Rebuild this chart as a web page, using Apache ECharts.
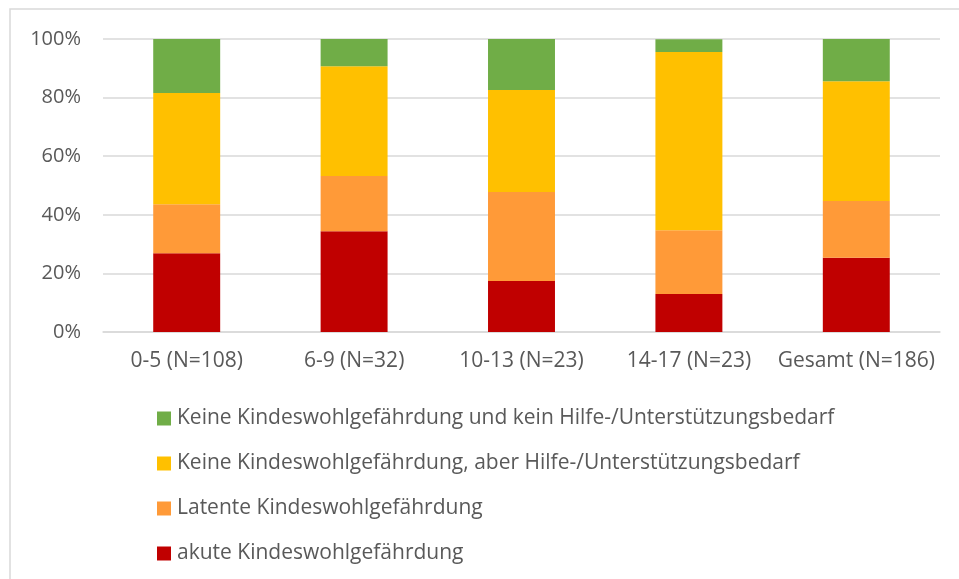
<!DOCTYPE html>
<html>
<head>
<meta charset="utf-8">
<script src="https://cdn.jsdelivr.net/npm/echarts@6/dist/echarts.min.js"></script>
<style>
  html, body { margin: 0; padding: 0; background: #fff; }
  #chart { width: 959px; height: 579px; }
</style>
</head>
<body>
<div id="chart"></div>
<script>
// categories and shares (percent of each group)
var categories = ['0-5 (N=108)', '6-9 (N=32)', '10-13 (N=23)', '14-17 (N=23)', 'Gesamt (N=186)'];
var akut = [26.9, 34.4, 17.4, 13.0, 25.3];
var latent = [16.7, 18.8, 30.4, 21.7, 19.4];
var hilfebedarf = [38.0, 37.5, 34.8, 60.9, 40.9];
var keinBedarf = [18.5, 9.4, 17.4, 4.3, 14.5];
var names = [
    'akute Kindeswohlgefährdung',
    'Latente Kindeswohlgefährdung',
    'Keine Kindeswohlgefährdung, aber Hilfe-/Unterstützungsbedarf',
    'Keine Kindeswohlgefährdung und kein Hilfe-/Unterstützungsbedarf'
];
var colors = ['#C00000', '#FF9A38', '#FFC000', '#70AD47'];

var chartDom = document.getElementById('chart');
var myChart = echarts.init(chartDom);
var font = 'Open Sans';

var seriesData = [akut, latent, hilfebedarf, keinBedarf];
var series = [];
for (var i = 0; i < seriesData.length; i++) {
    series.push({
        name: names[i],
        type: 'bar',
        stack: 'total',
        barWidth: '40%',
        itemStyle: { color: colors[i] },
        data: seriesData[i]
    });
}

var option = {
    animation: false,
    textStyle: { fontFamily: font },
    graphic: [{
        type: 'rect',
        shape: { x: 10, y: 9, width: 960, height: 600 },
        style: { fill: 'none', stroke: '#D9D9D9', lineWidth: 1.5 },
        silent: true
    }],
    grid: { left: 103, right: 19, top: 39, height: 293 },
    xAxis: {
        type: 'category',
        data: categories,
        axisTick: { show: false },
        axisLine: { show: true, lineStyle: { color: '#D9D9D9', width: 1.5 } },
        axisLabel: { color: '#595959', fontSize: 21, margin: 19, interval: 0, fontFamily: font }
    },
    yAxis: {
        type: 'value',
        min: 0,
        max: 100,
        interval: 20,
        axisLine: { show: false },
        axisTick: { show: false },
        splitLine: { lineStyle: { color: '#D9D9D9', width: 1.5 } },
        axisLabel: { color: '#595959', fontSize: 20, margin: 22, fontFamily: font, formatter: '{value}%' }
    },
    legend: {
        orient: 'vertical',
        left: 152,
        top: 403,
        itemWidth: 14,
        itemHeight: 14,
        itemGap: 24,
        icon: 'rect',
        data: [names[3], names[2], names[1], names[0]],
        textStyle: { color: '#595959', fontSize: 21, lineHeight: 21, fontFamily: font, padding: [0, 0, 0, 1] }
    },
    series: series
};

option && myChart.setOption(option);
</script>
</body>
</html>
